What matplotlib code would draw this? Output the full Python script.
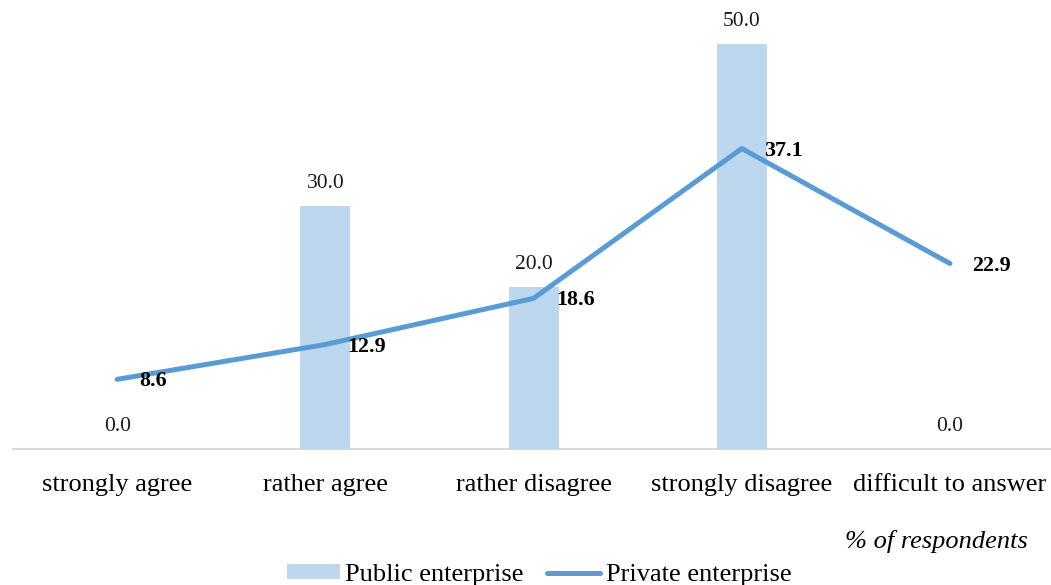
import matplotlib.pyplot as plt
import numpy as np

categories = ["strongly agree", "rather agree", "rather disagree",
              "strongly disagree", "difficult to answer"]
public = [0.0, 30.0, 20.0, 50.0, 0.0]
private = [8.6, 12.9, 18.6, 37.1, 22.9]

bar_color = "#BDD7EE"
line_color = "#5B9BD5"

plt.rcParams["font.family"] = ["Liberation Serif", "DejaVu Serif"]

fig = plt.figure(figsize=(10.51, 5.85), dpi=100)
ax = fig.add_axes([0.0124, 0.2325, 0.9905, 0.7615])

x = np.arange(len(categories))
bars = ax.bar(x, public, width=0.24, color=bar_color, label="Public enterprise", zorder=2)
line, = ax.plot(x, private, color=line_color, lw=3.6, solid_capstyle="round",
                label="Private enterprise", zorder=3)

for xi, v in zip(x, public):
    ax.annotate(f"{v:.1f}", (xi, v), xytext=(0, 16), textcoords="offset points",
                ha="center", va="center", fontsize=15.5, color="#1a1a1a")

for xi, v in zip(x, private):
    ax.annotate(f"{v:.1f}", (xi, v), xytext=(16, -1.5), textcoords="offset points",
                ha="left", va="center", fontsize=15.8, fontweight="bold", color="black")

ax.set_xlim(-0.5, 4.5)
ax.set_ylim(0, 55)
ax.set_xticks(x)
ax.set_xticklabels(categories, fontsize=19)
ax.tick_params(axis="x", length=0, pad=18)
ax.set_yticks([])
for side in ["top", "right", "left"]:
    ax.spines[side].set_visible(False)
ax.spines["bottom"].set_color("#D9D9D9")
ax.spines["bottom"].set_linewidth(1.5)
ax.spines["bottom"].set_zorder(1)

fig.text(1028 / 1051, 0.075, "% of respondents", ha="right", va="center",
         fontsize=19, style="italic")

fig.legend([bars, line], ["Public enterprise", "Private enterprise"],
           loc="center", bbox_to_anchor=(0.513, 0.017), ncol=2, frameon=False,
           fontsize=19, handlelength=2.0, handleheight=0.5, handletextpad=0.2,
           columnspacing=0.9, borderpad=0)

fig.savefig("out.png", dpi=100)
